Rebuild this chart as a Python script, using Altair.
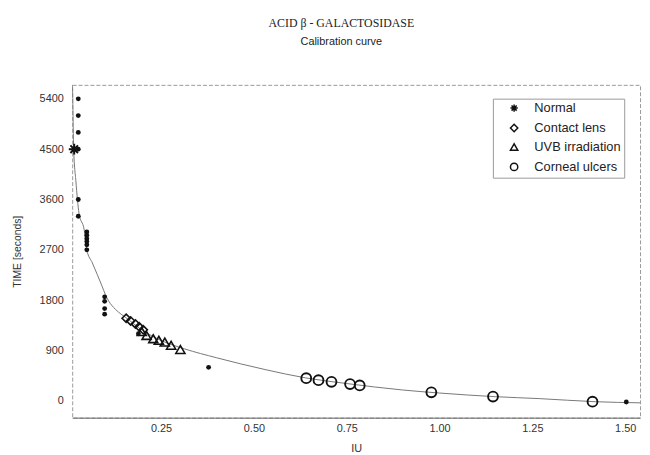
import altair as alt
import pandas as pd

# fitted calibration curve
curve_x = [0.0112, 0.012, 0.0146, 0.0205, 0.029, 0.043, 0.05, 0.065, 0.091, 0.10, 0.136, 0.153,
           0.20, 0.25, 0.313, 0.40, 0.53, 0.64, 0.75, 0.90, 1.00, 1.15, 1.27, 1.42, 1.54]
curve_y = [5650, 5400, 4500, 3935, 3353, 3053, 2700, 2465, 2052, 1900, 1583, 1500,
           1260, 1080, 930, 770, 560, 410, 310, 195, 140, 75, 40, -15, -35]

# calibration standards (filled dots)
cal_x = [0.027, 0.027, 0.027, 0.027, 0.027, 0.027,
         0.05, 0.05, 0.05, 0.05, 0.05, 0.05,
         0.098, 0.098, 0.098, 0.098, 0.189, 0.378, 1.503]
cal_y = [5400, 5100, 4800, 4500, 3600, 3300,
         3020, 2960, 2900, 2850, 2790, 2700,
         1860, 1780, 1650, 1550, 1200, 600, -20]

normal_x = [0.016]
normal_y = [4500]
contact_x = [0.156, 0.168, 0.181, 0.191, 0.202]
contact_y = [1477, 1430, 1376, 1323, 1270]
uvb_x = [0.198, 0.211, 0.229, 0.244, 0.26, 0.277, 0.302]
uvb_y = [1240, 1170, 1112, 1082, 1053, 994, 918]
ulcer_x = [0.641, 0.674, 0.709, 0.759, 0.785, 0.978, 1.144, 1.412]
ulcer_y = [406, 370, 341, 300, 277, 153, 77, -15]

groups = ["Normal", "Contact lens", "UVB irradiation", "Corneal ulcers"]
x_ticks = [0.25, 0.5, 0.75, 1.0, 1.25, 1.5]
y_ticks = [0, 900, 1800, 2700, 3600, 4500, 5400]

asterisk = "M0,-1L0,1M-1,0L1,0M-0.7,-0.7L0.7,0.7M-0.7,0.7L0.7,-0.7"
shape_scale = alt.Scale(domain=groups, range=[asterisk, "diamond", "triangle-up", "circle"])

df_curve = pd.DataFrame({"x": curve_x, "y": curve_y})
df_cal = pd.DataFrame({"x": cal_x, "y": cal_y})
df_normal = pd.DataFrame({"x": normal_x, "y": normal_y, "group": "Normal"})
df_contact = pd.DataFrame({"x": contact_x, "y": contact_y, "group": "Contact lens"})
df_uvb = pd.DataFrame({"x": uvb_x, "y": uvb_y, "group": "UVB irradiation"})
df_ulcer = pd.DataFrame({"x": ulcer_x, "y": ulcer_y, "group": "Corneal ulcers"})

FONT = "Liberation Sans"
x_scale = alt.Scale(domain=[0.0106, 1.54], nice=False, zero=False)
y_scale = alt.Scale(domain=[-300, 5650], nice=False, zero=False)

X = alt.X("x:Q", scale=x_scale, axis=alt.Axis(
    values=x_ticks, format=".2f", title="IU", ticks=False, grid=False,
    labelPadding=5, titlePadding=9, domainColor="#666", labelColor="#333",
    titleColor="#333", labelFontSize=11, titleFontSize=11, titleFontWeight="normal",
    labelFont=FONT, titleFont=FONT))
Y = alt.Y("y:Q", scale=y_scale, axis=alt.Axis(
    values=y_ticks, format="d", title="TIME [seconds]", ticks=False, grid=False,
    domain=False, labelPadding=9, titlePadding=17, labelColor="#333",
    titleColor="#333", labelFontSize=11, titleFontSize=10.5, titleFontWeight="normal",
    labelFont=FONT, titleFont=FONT))

curve = alt.Chart(df_curve).mark_line(
    color="#777", strokeWidth=1, interpolate="monotone", clip=True
).encode(x=X, y=Y)

cal = alt.Chart(df_cal).mark_circle(size=24, color="#111", opacity=1).encode(x="x:Q", y="y:Q")

legend = alt.Legend(
    title=None, orient="none", legendX=426, legendY=14, padding=3,
    symbolOffset=12, labelOffset=14, rowPadding=5.2, labelFont=FONT,
    labelFontSize=13, labelColor="#222", symbolSize=55, symbolStrokeWidth=1.5,
    symbolStrokeColor="#111", symbolFillColor="transparent",
    strokeColor="#999", fillColor="white", values=groups)

def pts(df, size, sw):
    return alt.Chart(df).mark_point(
        filled=False, color="#111", size=size, strokeWidth=sw, opacity=1
    ).encode(x="x:Q", y="y:Q",
             shape=alt.Shape("group:N", scale=shape_scale, legend=legend))

chart = alt.layer(
    curve, cal,
    pts(df_contact, 70, 1.6), pts(df_uvb, 85, 1.6), pts(df_ulcer, 100, 1.9),
    pts(df_normal, 120, 2.0),
).properties(
    width=575, height=337,
    autosize=alt.AutoSizeParams(type="none"),
    padding={"left": 65, "top": 75, "right": 2, "bottom": 35},
    title=alt.TitleParams(
        text="ACID β - GALACTOSIDASE", subtitle="Calibration curve",
        font="Liberation Serif", fontSize=12, fontWeight="normal", color="#222",
        subtitleFont=FONT, subtitleFontSize=11, subtitleColor="#222",
        subtitlePadding=7, offset=37, dx=-15, anchor="middle"),
).configure_view(stroke="#999", strokeDash=[4, 2], strokeWidth=1)

chart.save("out.html", embed_options={"renderer": "svg", "actions": False})
